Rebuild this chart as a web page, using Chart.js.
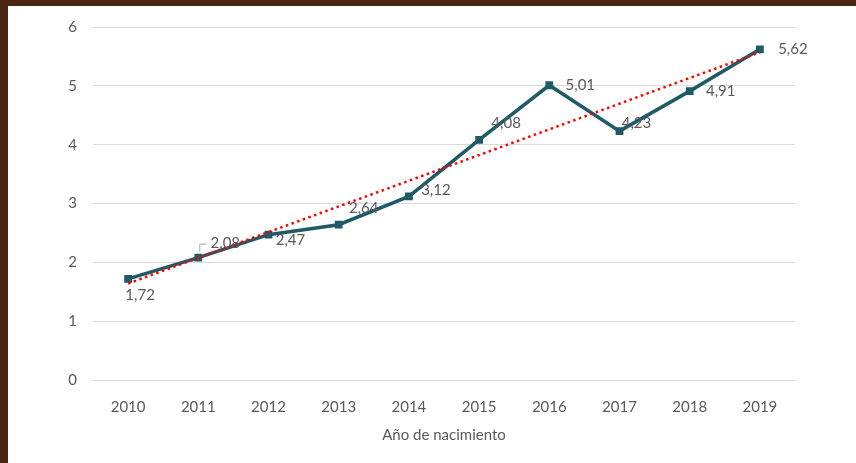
<!DOCTYPE html>
<html>
<head>
<meta charset="utf-8">
<script src="https://cdn.jsdelivr.net/npm/chart.js@4.4.0/dist/chart.umd.min.js"></script>
<style>
  html, body { margin: 0; padding: 0; }
  body { width: 856px; height: 463px; background: #4a2511; position: relative; overflow: hidden; }
  #marco { position: absolute; left: 8px; top: 6px; width: 848px; height: 457px; background: #ffffff; }
  #grafico { display: block; }
</style>
</head>
<body>
<div id="marco"><canvas id="grafico" width="848" height="457"></canvas></div>
<script>
// datos
const anios = ['2010', '2011', '2012', '2013', '2014', '2015', '2016', '2017', '2018', '2019'];
const valores = [1.72, 2.08, 2.47, 2.64, 3.12, 4.08, 5.01, 4.23, 4.91, 5.62];
// línea de tendencia (solo extremos, se unen con spanGaps)
const tendencia = [1.64, null, null, null, null, null, null, null, null, 5.57];
const ticksY = [0, 1, 2, 3, 4, 5, 6];

const fuente = 'Lato, "Liberation Sans", sans-serif';
const gris = '#595959';

// desplazamiento de cada etiqueta respecto a su punto
const desplaz = [[12, 16], [27, -14], [22, 5], [25, -17], [27, -6], [27, -17], [31, 0], [17, -8], [31, 0], [33, 0]];

const etiquetasPlugin = {
    id: 'etiquetas',
    afterDatasetsDraw(chart) {
        const ctx = chart.ctx;
        const meta = chart.getDatasetMeta(1);
        ctx.save();
        ctx.font = '15px ' + fuente;
        ctx.fillStyle = gris;
        ctx.textAlign = 'center';
        ctx.textBaseline = 'middle';
        meta.data.forEach(function (p, i) {
            const d = desplaz[i];
            ctx.fillText(valores[i].toFixed(2).replace('.', ','), p.x + d[0], p.y + d[1]);
        });
        // pequeña línea guía de la etiqueta 2011
        const p1 = meta.data[1];
        ctx.strokeStyle = '#a6a6a6';
        ctx.lineWidth = 1;
        ctx.beginPath();
        ctx.moveTo(p1.x + 1.5, p1.y - 6);
        ctx.lineTo(p1.x + 1.5, p1.y - 13.5);
        ctx.lineTo(p1.x + 8, p1.y - 13.5);
        ctx.stroke();
        ctx.restore();
    }
};

new Chart(document.getElementById('grafico').getContext('2d'), {
    type: 'line',
    data: {
        labels: anios,
        datasets: [
            {
                label: 'Tendencia',
                data: tendencia,
                spanGaps: true,
                borderColor: '#ff0000',
                borderWidth: 2.5,
                borderDash: [2.5, 3.5],
                pointRadius: 0,
                fill: false,
                tension: 0
            },
            {
                label: 'Valor',
                data: valores,
                borderColor: '#1f5a69',
                backgroundColor: '#1f5a69',
                borderWidth: 3.5,
                pointStyle: 'rect',
                pointRadius: 5.5,
                pointBorderWidth: 0,
                fill: false,
                tension: 0
            }
        ]
    },
    options: {
        responsive: false,
        animation: false,
        devicePixelRatio: 1,
        layout: { padding: { top: 21, right: 61, bottom: 0, left: 0 } },
        plugins: {
            legend: { display: false },
            tooltip: { enabled: false }
        },
        scales: {
            x: {
                offset: true,
                grid: { display: false },
                border: { display: false },
                ticks: { color: gris, font: { family: fuente, size: 15 }, padding: 10, maxRotation: 0 },
                title: {
                    display: true,
                    text: 'Año de nacimiento',
                    color: gris,
                    font: { family: fuente, size: 15 },
                    padding: { top: 8, bottom: 19 }
                },
                afterFit: function (scale) { scale.height = 83; }
            },
            y: {
                min: 0,
                max: 6,
                afterBuildTicks: function (scale) { scale.ticks = ticksY.map(v => ({ value: v })); },
                grid: { color: '#d9d9d9', lineWidth: 1, drawTicks: false },
                border: { display: false },
                ticks: { color: gris, font: { family: fuente, size: 15 }, padding: 16 },
                afterFit: function (scale) {
                    scale.width = 85;
                    scale.paddingTop = 0;
                    scale.paddingBottom = 0;
                }
            }
        }
    },
    plugins: [etiquetasPlugin]
});
</script>
</body>
</html>
